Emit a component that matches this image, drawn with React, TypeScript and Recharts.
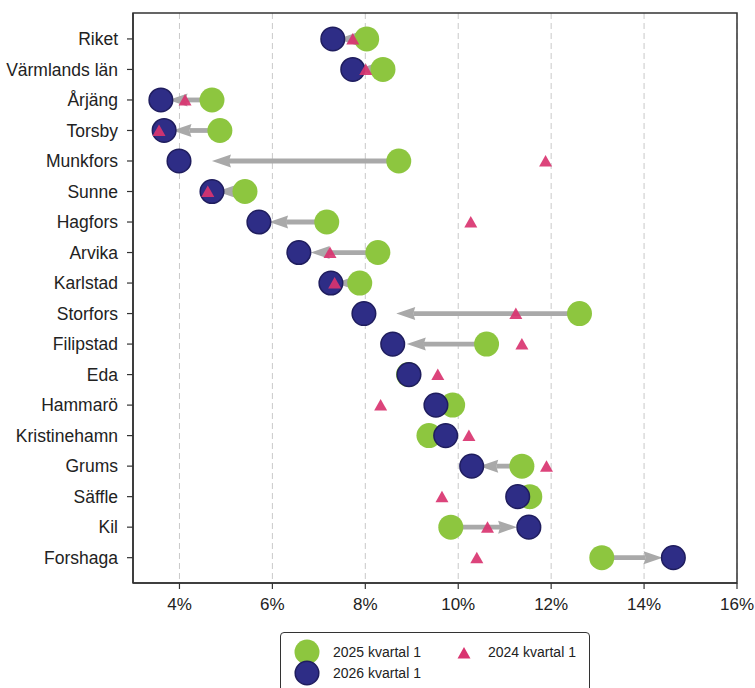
import React from 'react';
import {
  ScatterChart,
  Scatter,
  XAxis,
  YAxis,
  CartesianGrid,
  ReferenceLine,
  ReferenceArea,
} from 'recharts';

const categories = [
  'Riket', 'Värmlands län', 'Årjäng', 'Torsby', 'Munkfors', 'Sunne', 'Hagfors', 'Arvika', 'Karlstad',
  'Storfors', 'Filipstad', 'Eda', 'Hammarö', 'Kristinehamn', 'Grums', 'Säffle', 'Kil', 'Forshaga',
];
const q1_2025 = [8.03, 8.38, 4.7, 4.87, 8.72, 5.41, 7.17, 8.27, 7.88, 12.61, 10.61, 8.93, 9.88, 9.37, 11.37, 11.54, 9.84, 13.09];
const q1_2026 = [7.3, 7.73, 3.6, 3.67, 3.99, 4.7, 5.71, 6.57, 7.26, 7.97, 8.59, 8.94, 9.52, 9.73, 10.29, 11.28, 11.52, 14.63];
const q1_2024 = [7.73, 8.01, 4.12, 3.56, 11.88, 4.61, 10.27, 7.24, 7.34, 11.24, 11.37, 9.56, 8.33, 10.23, 11.9, 9.65, 10.63, 10.4];
const xTicks = [4, 6, 8, 10, 12, 14, 16];
const legendLabels = ['2025 kvartal 1', '2026 kvartal 1', '2024 kvartal 1'];

const GREEN = '#8dc63f';
const NAVY = '#2e2d86';
const NAVY_EDGE = '#1f1d5e';
const PINK = '#d93470';
const ARROW = '#a9a9a9';
const FONT = '"Liberation Sans", Arial, sans-serif';

const greenData = categories.map((c, i) => ({ idx: i, v: q1_2025[i] }));
const navyData = categories.map((c, i) => ({ idx: i, v: q1_2026[i] }));
const pinkData = categories.map((c, i) => ({ idx: i, v: q1_2024[i] }));

const GreenDot = (p: any) => <circle cx={p.cx} cy={p.cy} r={12.5} fill={GREEN} />;
const NavyDot = (p: any) => (
  <circle cx={p.cx} cy={p.cy} r={11.8} fill={NAVY} stroke={NAVY_EDGE} strokeWidth={1.5} />
);
const Tri = (p: any) => (
  <polygon
    points={`${p.cx},${p.cy - 6} ${p.cx - 6.5},${p.cy + 5.5} ${p.cx + 6.5},${p.cy + 5.5}`}
    fill={PINK}
    fillOpacity={0.92}
  />
);

const ArrowShape = (p: any) => {
  const { x1, y1, x2 } = p;
  if (x1 == null || x2 == null) return null;
  const full = x2 - x1;
  const dir = full >= 0 ? 1 : -1;
  const L = Math.abs(full) * 0.85;
  const tip = x1 + dir * L;
  const hl = Math.min(19, Math.max(L, 3));
  const hw = 6.5;
  const base = tip - dir * hl;
  const shaftEnd = dir * (base - x1) > 0 ? base + dir * 2 : x1;
  return (
    <g>
      {dir * (shaftEnd - x1) > 0 && (
        <line x1={x1} y1={y1} x2={shaftEnd} y2={y1} stroke={ARROW} strokeWidth={4.8} />
      )}
      <polygon
        points={`${tip},${y1} ${base},${y1 - hw} ${base + dir * 2},${y1} ${base},${y1 + hw}`}
        fill={ARROW}
      />
    </g>
  );
};

const YTick = (p: any) => {
  const { x, y, payload } = p;
  return (
    <text x={x} y={y} dy="0.36em" textAnchor="end" fontSize={17.5} fill="#222" fontFamily={FONT}>
      {categories[payload.value]}
    </text>
  );
};

export default function App() {
  return (
    <div style={{ position: 'absolute', left: 0, top: 0, width: 755, height: 688, background: '#fff', overflow: 'hidden' }}>
      <ScatterChart
        width={755}
        height={688}
        margin={{ top: 13, right: 18, bottom: 75, left: 0 }}
        style={{ fontFamily: FONT }}
      >
        <CartesianGrid horizontal={false} strokeDasharray="6 4" stroke="#c9c9c9" strokeWidth={1} />
        <XAxis
          type="number"
          dataKey="v"
          domain={[3, 16]}
          ticks={xTicks}
          tickFormatter={(v: number) => `${v}%`}
          allowDataOverflow
          height={30}
          tickSize={6}
          tickMargin={9}
          tick={{ fontSize: 17, fill: '#222', fontFamily: FONT }}
          axisLine={{ stroke: '#333', strokeWidth: 1.5 }}
          tickLine={{ stroke: '#333', strokeWidth: 1.2 }}
        />
        <YAxis
          type="number"
          dataKey="idx"
          domain={[-0.85, 17.83]}
          ticks={categories.map((c, i) => i)}
          reversed
          allowDataOverflow
          width={133}
          tickSize={6}
          tickMargin={9}
          tick={<YTick />}
          axisLine={{ stroke: '#333', strokeWidth: 1.5 }}
          tickLine={{ stroke: '#333', strokeWidth: 1.2 }}
        />
        <ReferenceArea
          x1={3}
          x2={16}
          y1={-0.85}
          y2={17.83}
          fill="none"
          stroke="#333"
          strokeWidth={1.5}
          ifOverflow="visible"
        />
        <Scatter name={legendLabels[0]} data={greenData} dataKey="v" shape={GreenDot} isAnimationActive={false} />
        <Scatter name={legendLabels[1]} data={navyData} dataKey="v" shape={NavyDot} isAnimationActive={false} />
        {categories.map((c, i) => (
          <ReferenceLine
            key={c}
            segment={[
              { x: q1_2025[i], y: i },
              { x: q1_2026[i], y: i },
            ]}
            shape={ArrowShape}
            ifOverflow="visible"
          />
        ))}
        <Scatter name={legendLabels[2]} data={pinkData} dataKey="v" shape={Tri} isAnimationActive={false} />
      </ScatterChart>
      <div
        style={{
          position: 'absolute',
          left: 280,
          top: 632,
          width: 310,
          height: 70,
          border: '1.5px solid #333',
          borderRadius: 4,
          boxSizing: 'border-box',
          background: '#fff',
        }}
      >
        <svg width={310} height={70} style={{ position: 'absolute', left: -1.5, top: -1.5 }}>
          <circle cx={27} cy={20} r={12.5} fill={GREEN} />
          <circle cx={27} cy={41} r={11.8} fill={NAVY} stroke={NAVY_EDGE} strokeWidth={1.5} />
          <text x={53} y={20} dy="0.36em" fontSize={14} fill="#222" fontFamily={FONT}>{legendLabels[0]}</text>
          <text x={53} y={41} dy="0.36em" fontSize={14} fill="#222" fontFamily={FONT}>{legendLabels[1]}</text>
          <polygon points={`${184},${15} ${177.5},${26.5} ${190.5},${26.5}`} fill={PINK} />
          <text x={208} y={20} dy="0.36em" fontSize={14} fill="#222" fontFamily={FONT}>{legendLabels[2]}</text>
        </svg>
      </div>
    </div>
  );
}
